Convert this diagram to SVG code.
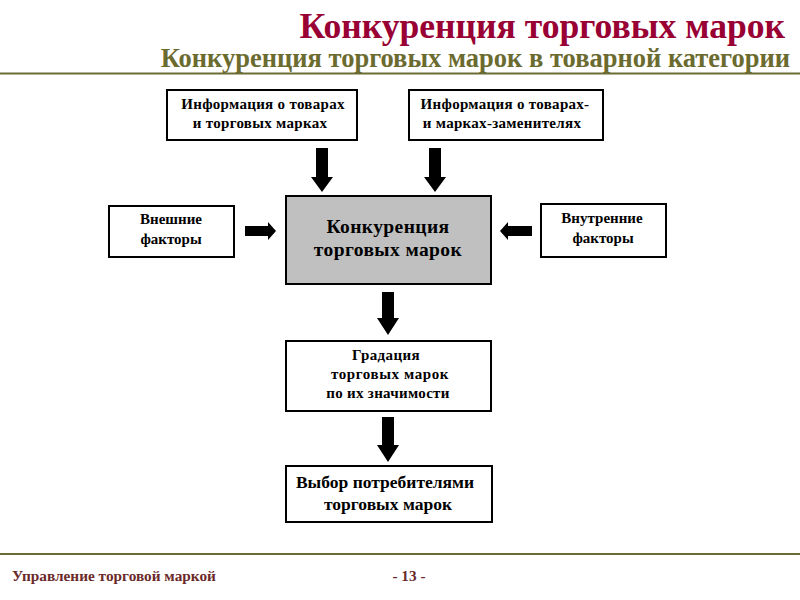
<svg xmlns="http://www.w3.org/2000/svg" width="800" height="600" viewBox="0 0 800 600">
<style>
.box{fill:#fff;stroke:#000;stroke-width:2}
.t{font-family:'Liberation Serif',serif;font-weight:bold;font-size:15px;fill:#000;text-anchor:middle}
.c{font-size:19.5px}
.v{font-size:17.5px}
.arr{fill:#000}
.f{font-family:'Liberation Serif',serif;font-weight:bold;font-size:15.3px;fill:#6b2a2a}
</style>
<rect width="800" height="600" fill="#fff"/>
<text x="785" y="38" font-family="'Liberation Serif',serif" font-weight="bold" font-size="35.6" fill="#990033" text-anchor="end">Конкуренция торговых марок</text>
<text x="790" y="67" font-family="'Liberation Serif',serif" font-weight="bold" font-size="26.5" fill="#6b6b2f" text-anchor="end">Конкуренция торговых марок в товарной категории</text>
<line x1="0" y1="73.5" x2="800" y2="73.5" stroke="#6b6b35" stroke-width="2"/>
<g id="info1"><rect class="box" x="167" y="90" width="190" height="50"/>
<text class="t" x="263" y="109" letter-spacing="0.3">Информация о товарах</text><text class="t" x="260" y="128" letter-spacing="0.3">и торговых марках</text></g>
<g id="info2"><rect class="box" x="409" y="90" width="194" height="50"/>
<text class="t" x="505" y="109" letter-spacing="0.3">Информация о товарах-</text><text class="t" x="502" y="128" letter-spacing="0.3">и марках-заменителях</text></g>
<g id="ext"><rect class="box" x="109" y="206" width="125" height="51"/>
<text class="t" x="171" y="224">Внешние</text><text class="t" x="171" y="244">факторы</text></g>
<g id="center"><rect x="286" y="196" width="205" height="88" fill="#c0c0c0" stroke="#000" stroke-width="2"/>
<text class="t c" x="388" y="233" letter-spacing="0.4">Конкуренция</text><text class="t c" x="388" y="256" letter-spacing="0.4">торговых марок</text></g>
<g id="int"><rect class="box" x="541" y="204" width="125" height="53"/>
<text class="t" x="602" y="223">Внутренние</text><text class="t" x="603" y="243">факторы</text></g>
<g id="grad"><rect class="box" x="286" y="341" width="205" height="70"/>
<text class="t" x="386" y="360" letter-spacing="0.4">Градация</text><text class="t" x="390" y="379" letter-spacing="0.6">торговых марок</text><text class="t" x="388" y="398" letter-spacing="0.3">по их значимости</text></g>
<g id="choice"><rect class="box" x="286" y="466" width="206" height="56"/>
<text class="t v" x="385" y="488">Выбор потребителями</text><text class="t v" x="388" y="510">торговых марок</text></g>
<g id="connectors">
<polygon class="arr" points="316,148 328,148 328,177 333,177 322,192 311,177 316,177"/>
<polygon class="arr" points="429,148 441,148 441,177 446,177 435,192 424,177 429,177"/>
<polygon class="arr" points="245,226 268,226 268,222 276,231 268,240 268,236 245,236"/>
<polygon class="arr" points="532,226 508,226 508,222 500,231 508,240 508,236 532,236"/>
<polygon class="arr" points="382,292 394,292 394,318 399,318 388,335 377,318 382,318"/>
<polygon class="arr" points="382,417 394,417 394,445 399,445 388,462 377,445 382,445"/>
</g>
<line x1="0" y1="554" x2="800" y2="554" stroke="#6b6b35" stroke-width="2"/>
<text class="f" x="12" y="581">Управление торговой маркой</text>
<text class="f" x="409" y="581" text-anchor="middle">- 13 -</text>
</svg>
